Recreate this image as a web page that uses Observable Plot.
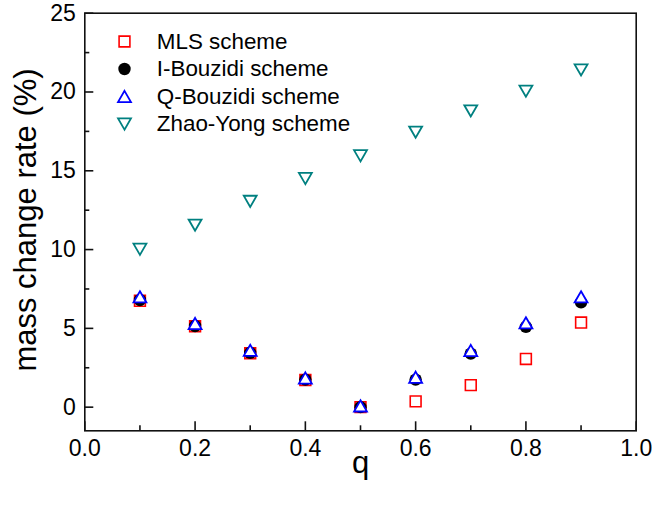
<!DOCTYPE html>
<html><head><meta charset="utf-8">
<script src="https://cdn.jsdelivr.net/npm/d3@7"></script>
<script src="https://cdn.jsdelivr.net/npm/@observablehq/plot@0.6"></script>
<style>body{margin:0;background:#fff} #chart{width:652px;height:505px}</style>
</head><body><div id="chart"></div>
<script>
const q = [0.1, 0.2, 0.3, 0.4, 0.5, 0.6, 0.7, 0.8, 0.9];
const mls = [6.75, 5.13, 3.42, 1.72, 0.0, 0.37, 1.4, 3.06, 5.37];
const iBouzidi = [6.8, 5.15, 3.45, 1.75, 0.0, 1.75, 3.4, 5.1, 6.65];
const qBouzidi = [7.0, 5.31, 3.61, 1.85, 0.08, 1.9, 3.6, 5.35, 7.0];
const zhaoYong = [10.02, 11.55, 13.06, 14.51, 15.95, 17.45, 18.8, 20.05, 21.4];
const seriesNames = ["MLS scheme", "I-Bouzidi scheme", "Q-Bouzidi scheme", "Zhao-Yong scheme"];
const xMajorTicks = [0, 0.2, 0.4, 0.6, 0.8, 1.0];
const xMinorTicks = [0.1, 0.3, 0.5, 0.7, 0.9];
const yMajorTicks = [0, 5, 10, 15, 20, 25];
const yMinorTicks = [2.5, 7.5, 12.5, 17.5, 22.5];
const xLabel = "q";
const yLabel = "mass change rate (%)";

const W = 652, H = 505, mL = 84.3, mR = 16.3, mT = 12.7, mB = 74.7;
const xDomain = [0, 1], yDomain = [-1.5, 25];
// tick lengths in pixels, converted to data units along each scale
const xPerPx = (xDomain[1] - xDomain[0]) / (W - mL - mR);
const yPerPx = (yDomain[1] - yDomain[0]) / (H - mT - mB);
const majorLen = 9, minorLen = 5;

const styles = [
  {symbol: "square", r: 6.1, stroke: "#ff0000", fill: "none", strokeWidth: 1.6, rotate: 0, shift: 0},
  {symbol: "circle", r: 6.2, stroke: "none", fill: "#000000", strokeWidth: 0, rotate: 0, shift: 0},
  {symbol: "triangle", r: 4.8, stroke: "#0000ff", fill: "#ffffff", strokeWidth: 1.8, rotate: 0, shift: 1.87},
  {symbol: "triangle", r: 4.8, stroke: "#008080", fill: "none", strokeWidth: 1.8, rotate: 180, shift: -1.87}
];
const series = [mls, iBouzidi, qBouzidi, zhaoYong];

const dataMarks = series.map((vals, i) => {
  const s = styles[i];
  return Plot.dot(q, {x: q, y: vals, symbol: s.symbol, r: s.r, stroke: s.stroke, fill: s.fill,
    strokeWidth: s.strokeWidth, rotate: s.rotate, dy: s.shift});
});

const legendMarks = [];
seriesNames.forEach((name, i) => {
  const s = styles[i];
  const rowDy = 28.3 + 27.5 * i;
  legendMarks.push(Plot.dot([name], {frameAnchor: "top-left", dx: 39.7, dy: rowDy + s.shift,
    symbol: s.symbol, r: s.r, stroke: s.stroke, fill: s.fill, strokeWidth: s.strokeWidth, rotate: s.rotate}));
  legendMarks.push(Plot.text([name], {frameAnchor: "top-left", dx: 72, dy: rowDy, text: d => d,
    textAnchor: "start", lineAnchor: "middle", fontSize: 22.4, fill: "#000"}));
});

const tickStroke = {stroke: "#111", strokeWidth: 1.6};
const xTickRule = (ticks, len) => Plot.ruleX(ticks, {x: d => d, y1: () => yDomain[0], y2: () => yDomain[0] + len * yPerPx, ...tickStroke});
const yTickRule = (ticks, len) => Plot.ruleY(ticks, {y: d => d, x1: () => xDomain[0], x2: () => xDomain[0] + len * xPerPx, ...tickStroke});

const chart = Plot.plot({
  width: W,
  height: H,
  marginLeft: mL,
  marginRight: mR,
  marginTop: mT,
  marginBottom: mB,
  style: {fontFamily: "'Liberation Sans', Arial, sans-serif", fontSize: "23px", background: "#fff", color: "#000"},
  x: {domain: xDomain},
  y: {domain: yDomain},
  marks: [
    Plot.frame({stroke: "#111", strokeWidth: 1.6}),
    xTickRule(xMajorTicks, majorLen),
    xTickRule(xMinorTicks, minorLen),
    yTickRule(yMajorTicks, majorLen),
    yTickRule(yMinorTicks, minorLen),
    Plot.axisX(xMajorTicks, {tickSize: 0, tickPadding: 9, tickFormat: d3.format(".1f"), label: null, fontSize: 23}),
    Plot.axisY(yMajorTicks, {tickSize: 0, tickPadding: 9, tickFormat: d3.format("d"), label: null, fontSize: 23}),
    Plot.text([xLabel], {frameAnchor: "bottom", dy: 42, text: d => d, fontSize: 31, fill: "#000"}),
    Plot.text([yLabel], {frameAnchor: "left", dx: -59, dy: -2, rotate: -90, textAnchor: "middle", lineAnchor: "middle", text: d => d, fontSize: 31, fill: "#000"}),
    ...dataMarks,
    ...legendMarks
  ]
});
document.getElementById("chart").append(chart);
</script>
</body></html>
